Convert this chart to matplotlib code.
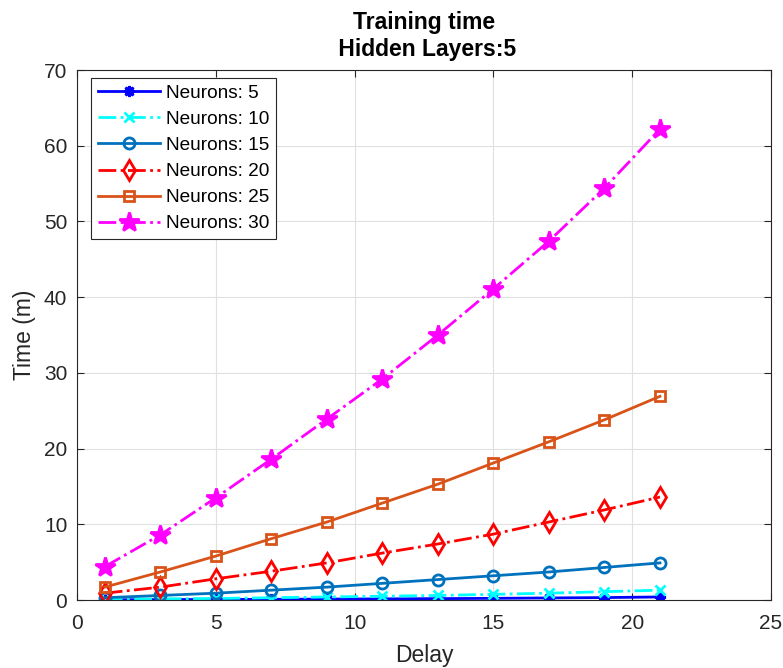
import matplotlib.pyplot as plt

plt.rcParams['font.family'] = ['Liberation Sans', 'DejaVu Sans']

# Data
delay = [1, 3, 5, 7, 9, 11, 13, 15, 17, 19, 21]
neurons_5 = [0.03, 0.05, 0.07, 0.09, 0.12, 0.15, 0.18, 0.22, 0.27, 0.32, 0.4]
neurons_10 = [0.1, 0.15, 0.2, 0.3, 0.4, 0.5, 0.6, 0.75, 0.9, 1.1, 1.3]
neurons_15 = [0.3, 0.6, 0.9, 1.3, 1.7, 2.2, 2.7, 3.2, 3.7, 4.3, 4.9]
neurons_20 = [0.9, 1.7, 2.8, 3.8, 4.9, 6.2, 7.4, 8.7, 10.3, 11.9, 13.6]
neurons_25 = [1.7, 3.7, 5.8, 8.1, 10.3, 12.8, 15.3, 18.1, 20.9, 23.8, 26.9]
neurons_30 = [4.4, 8.6, 13.5, 18.6, 23.9, 29.2, 35.0, 41.1, 47.4, 54.4, 62.2]

asterisk = (8, 2, 0)
series = [
    ('Neurons: 5', neurons_5, '#0000ff', '-', asterisk, 8),
    ('Neurons: 10', neurons_10, '#00ffff', '-.', 'x', 7),
    ('Neurons: 15', neurons_15, '#0072bd', '-', 'o', 8),
    ('Neurons: 20', neurons_20, '#ff0000', '-.', 'd', 10),
    ('Neurons: 25', neurons_25, '#d95319', '-', 's', 7),
    ('Neurons: 30', neurons_30, '#ff00ff', '-.', '*', 15),
]

W, H = 783, 668
fig = plt.figure(figsize=(W / 100, H / 100), dpi=100)
ax = fig.add_axes([77 / W, 1 - 600 / H, (771 - 77) / W, (600 - 70) / H])

for label, vals, color, ls, marker, ms in series:
    filled = marker in (asterisk, 'x', '*')
    ax.plot(delay, vals, linestyle=ls, color=color, marker=marker, markersize=ms,
            linewidth=2, markeredgewidth=2,
            markerfacecolor=color if filled else 'none', label=label)

ax.set_xlim(0, 25)
ax.set_ylim(0, 70)
ax.set_xticks(range(0, 26, 5))
ax.set_yticks(range(0, 71, 10))
ax.tick_params(labelsize=15, direction='in', length=5, width=0.8,
               colors='#262626', top=True, right=True)
ax.tick_params(axis='x', pad=10)
ax.tick_params(axis='y', pad=7)
ax.grid(True, color='#e0e0e0', linewidth=0.8)
ax.set_axisbelow(True)
for s in ax.spines.values():
    s.set_color('#262626')
    s.set_linewidth(0.8)

ax.set_xlabel('Delay', fontsize=16.5, color='#262626', labelpad=8)
ax.set_ylabel('Time (m)', fontsize=16.5, color='#262626', labelpad=6)
ax.set_title('Training time\n Hidden Layers:5', fontsize=16.5, fontweight='bold',
             pad=10, linespacing=1.25)

leg = ax.legend(loc='upper left', bbox_to_anchor=(91 / W, 1 - 78 / H),
                bbox_transform=fig.transFigure, borderaxespad=0,
                fontsize=13.7, frameon=True, fancybox=False, framealpha=1,
                edgecolor='#262626', handlelength=3.3, borderpad=0.35,
                labelspacing=0.46, handletextpad=0.3)
leg.get_frame().set_linewidth(0.8)

fig.savefig('out.png', dpi=100)
